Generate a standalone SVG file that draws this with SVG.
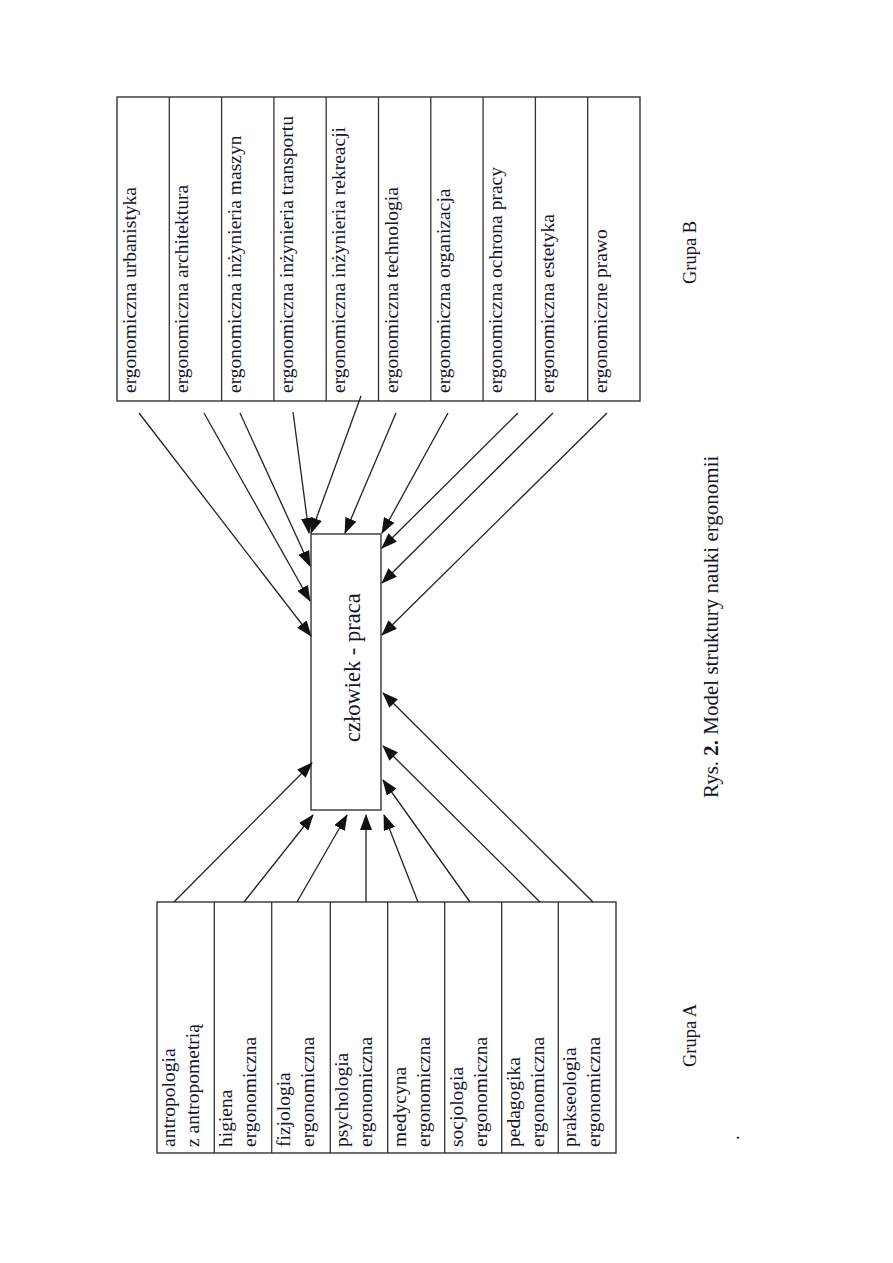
<svg xmlns="http://www.w3.org/2000/svg" width="893" height="1263" viewBox="0 0 893 1263">
<style>
.bx{fill:#fff;stroke:#333;stroke-width:1.4}
.dv{stroke:#333;stroke-width:1.3}
.t{font-family:"Liberation Serif","Times New Roman",serif;font-size:19.5px;fill:#14142a}
.c{font-family:"Liberation Serif","Times New Roman",serif;font-size:22.5px;fill:#14142a}
.cap{font-family:"Liberation Serif","Times New Roman",serif;font-size:18.5px;fill:#14142a}
.rys{font-family:"Liberation Serif","Times New Roman",serif;font-size:21px;fill:#14142a}
.ar{stroke:#222;stroke-width:1.3;fill:none;marker-end:url(#ah)}
</style>
<defs>
<marker id="ah" markerUnits="userSpaceOnUse" markerWidth="16" markerHeight="12" viewBox="0 0 16 12" refX="15" refY="6" orient="auto">
<path d="M0,0 L16,6 L0,12 z" fill="#111"/>
</marker>
</defs>
<rect width="893" height="1263" fill="#fff"/>

<g id="grupaB">
<rect class="bx" x="117" y="97" width="523" height="304"/>
<line class="dv" x1="169.3" y1="97" x2="169.3" y2="401"/>
<line class="dv" x1="221.6" y1="97" x2="221.6" y2="401"/>
<line class="dv" x1="273.9" y1="97" x2="273.9" y2="401"/>
<line class="dv" x1="326.2" y1="97" x2="326.2" y2="401"/>
<line class="dv" x1="378.5" y1="97" x2="378.5" y2="401"/>
<line class="dv" x1="430.8" y1="97" x2="430.8" y2="401"/>
<line class="dv" x1="483.1" y1="97" x2="483.1" y2="401"/>
<line class="dv" x1="535.4" y1="97" x2="535.4" y2="401"/>
<line class="dv" x1="587.7" y1="97" x2="587.7" y2="401"/>
<text class="t" transform="translate(136,393) rotate(-90)">ergonomiczna urbanistyka</text>
<text class="t" transform="translate(188.3,393) rotate(-90)">ergonomiczna architektura</text>
<text class="t" transform="translate(240.6,393) rotate(-90)">ergonomiczna inżynieria maszyn</text>
<text class="t" transform="translate(292.9,393) rotate(-90)">ergonomiczna inżynieria transportu</text>
<text class="t" transform="translate(345.2,393) rotate(-90)">ergonomiczna inżynieria rekreacji</text>
<text class="t" transform="translate(397.5,393) rotate(-90)">ergonomiczna technologia</text>
<text class="t" transform="translate(449.8,393) rotate(-90)">ergonomiczna organizacja</text>
<text class="t" transform="translate(502.1,393) rotate(-90)">ergonomiczna ochrona pracy</text>
<text class="t" transform="translate(554.4,393) rotate(-90)">ergonomiczna estetyka</text>
<text class="t" transform="translate(606.7,393) rotate(-90)">ergonomiczne prawo</text>
</g>

<g id="czlowiek-praca">
<rect class="bx" x="311" y="534" width="70" height="276"/>
<text class="c" transform="translate(360,742) rotate(-90)">człowiek - praca</text>
</g>

<g id="grupaA">
<rect class="bx" x="157" y="902" width="459" height="251"/>
<line class="dv" x1="214.3" y1="902" x2="214.3" y2="1153"/>
<line class="dv" x1="271.7" y1="902" x2="271.7" y2="1153"/>
<line class="dv" x1="330.3" y1="902" x2="330.3" y2="1153"/>
<line class="dv" x1="387.7" y1="902" x2="387.7" y2="1153"/>
<line class="dv" x1="444.7" y1="902" x2="444.7" y2="1153"/>
<line class="dv" x1="501.7" y1="902" x2="501.7" y2="1153"/>
<line class="dv" x1="558.3" y1="902" x2="558.3" y2="1153"/>
<text class="t" transform="translate(175,1147) rotate(-90)">antropologia</text>
<text class="t" transform="translate(198.5,1147) rotate(-90)">z antropometrią</text>
<text class="t" transform="translate(232,1147) rotate(-90)">higiena</text>
<text class="t" transform="translate(256,1147) rotate(-90)">ergonomiczna</text>
<text class="t" transform="translate(289.5,1147) rotate(-90)">fizjologia</text>
<text class="t" transform="translate(313.5,1147) rotate(-90)">ergonomiczna</text>
<text class="t" transform="translate(348,1147) rotate(-90)">psychologia</text>
<text class="t" transform="translate(372,1147) rotate(-90)">ergonomiczna</text>
<text class="t" transform="translate(405.5,1147) rotate(-90)">medycyna</text>
<text class="t" transform="translate(429.5,1147) rotate(-90)">ergonomiczna</text>
<text class="t" transform="translate(462.5,1147) rotate(-90)">socjologia</text>
<text class="t" transform="translate(486.5,1147) rotate(-90)">ergonomiczna</text>
<text class="t" transform="translate(519.5,1147) rotate(-90)">pedagogika</text>
<text class="t" transform="translate(543.5,1147) rotate(-90)">ergonomiczna</text>
<text class="t" transform="translate(576,1147) rotate(-90)">prakseologia</text>
<text class="t" transform="translate(600,1147) rotate(-90)">ergonomiczna</text>
</g>

<g id="connectors">
<line class="ar" x1="139" y1="413" x2="311" y2="636"/>
<line class="ar" x1="204" y1="413" x2="310" y2="601"/>
<line class="ar" x1="240" y1="413" x2="310" y2="566"/>
<line class="ar" x1="293" y1="412" x2="309" y2="533"/>
<line class="ar" x1="361" y1="396" x2="311" y2="533"/>
<line class="ar" x1="396" y1="413" x2="345" y2="533"/>
<line class="ar" x1="448" y1="413" x2="382" y2="533"/>
<line class="ar" x1="518" y1="413" x2="382" y2="548"/>
<line class="ar" x1="553" y1="413" x2="382" y2="583"/>
<line class="ar" x1="607" y1="413" x2="382" y2="635"/>
<line class="ar" x1="174" y1="902" x2="312" y2="763"/>
<line class="ar" x1="244" y1="902" x2="313" y2="815"/>
<line class="ar" x1="297" y1="902" x2="347" y2="815"/>
<line class="ar" x1="366" y1="902" x2="366" y2="815"/>
<line class="ar" x1="418" y1="902" x2="384" y2="815"/>
<line class="ar" x1="470" y1="902" x2="383" y2="780"/>
<line class="ar" x1="540" y1="902" x2="383" y2="746"/>
<line class="ar" x1="593" y1="902" x2="383" y2="693"/>
</g>

<g id="captions">
<text class="cap" transform="translate(696,284) rotate(-90)">Grupa B</text>
<text class="cap" transform="translate(696,1067) rotate(-90)">Grupa A</text>
<text class="rys" transform="translate(718,798) rotate(-90)">Rys. <tspan font-weight="bold">2.</tspan> Model struktury nauki ergonomii</text>
<text class="cap" transform="translate(739,1140) rotate(-90)">.</text>
</g>
</svg>
